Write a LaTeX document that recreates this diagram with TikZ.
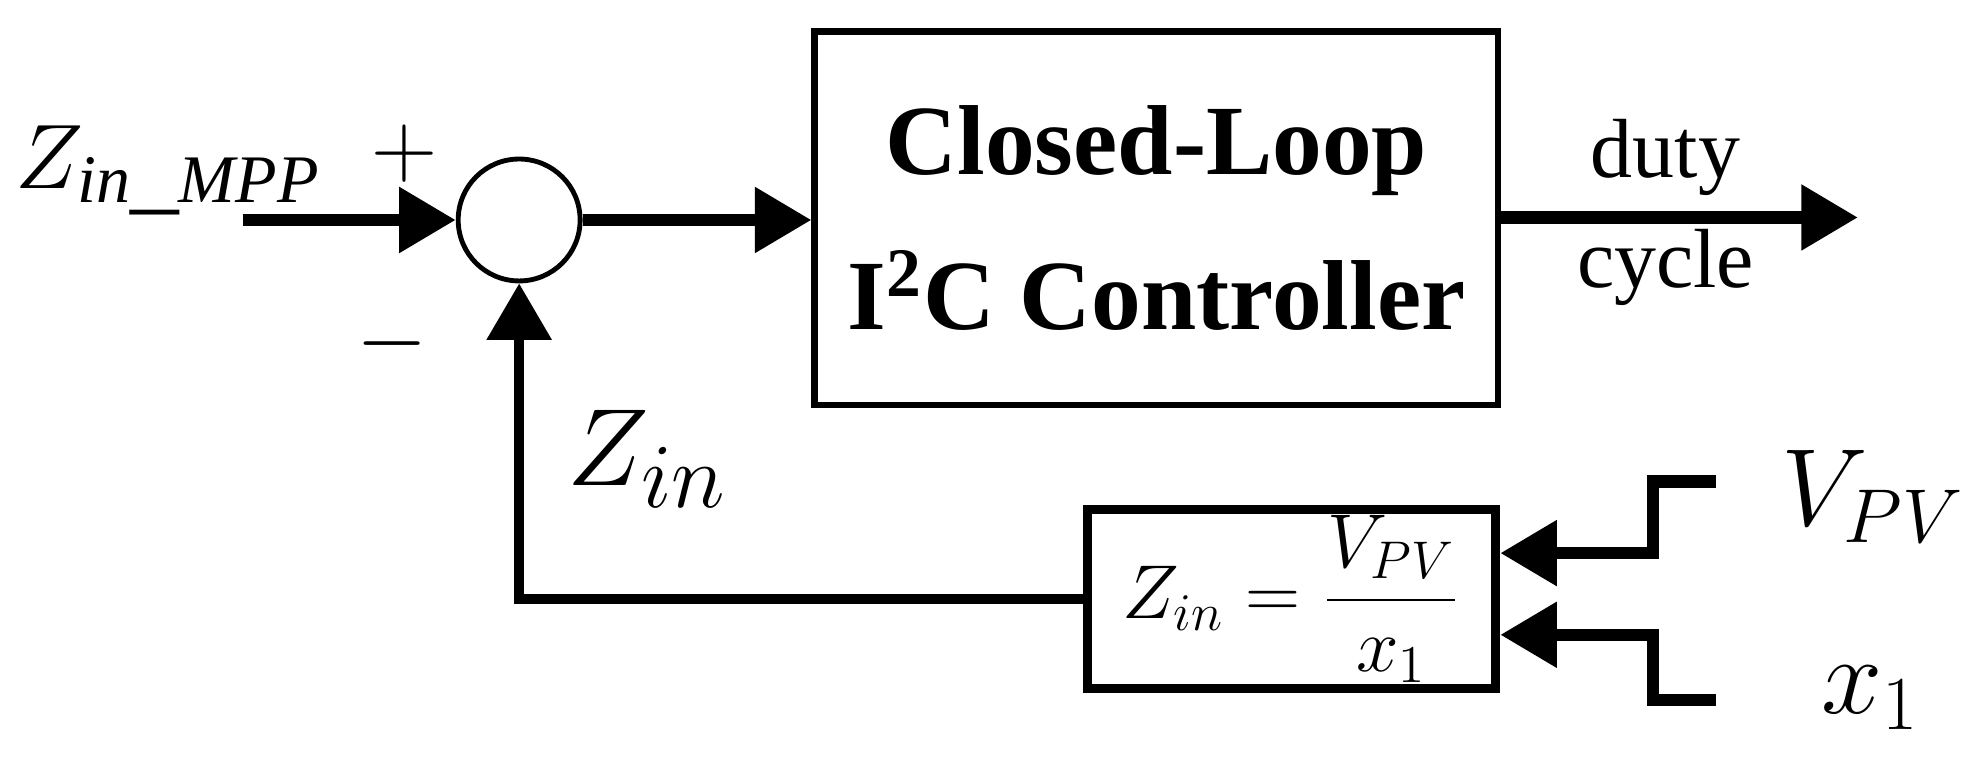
\documentclass[tikz,border=0pt]{standalone}
\usepackage{fontspec}
\setmainfont{Liberation Serif}
\usetikzlibrary{arrows.meta, positioning}
\tikzset{
    sig/.style={line width=2.8pt, -{Triangle[length=0.45cm, width=0.5cm]}},
    blk/.style={draw, line width=1.4pt, inner sep=0pt},
    lbl/.style={font=\fontsize{#1}{#1}\selectfont, inner sep=0pt}
}

\begin{document}
\begin{tikzpicture}
\useasboundingbox (0, 0) rectangle (15.68, -6.09);
\node[blk, minimum width=5.44cm, minimum height=2.97cm, align=center,
      font=\bfseries\fontsize{22.5}{35}\selectfont] (ctrl) at (9.2, -1.735)
      {Closed-Loop\\I\textsuperscript{2}C Controller};
\node[circle, draw, line width=1.1pt, minimum size=0.97cm, inner sep=0pt] (sum) at (4.13, -1.75) {};
\node[blk, line width=2pt, minimum width=3.25cm, minimum height=1.43cm,
      font=\fontsize{17}{17}\selectfont] (zcalc) at (10.275, -4.765)
      {$\displaystyle Z_{in}=\frac{V_{PV}}{x_1}$};
\coordinate (in) at (1.93, -1.75);
\coordinate (out) at (14.78, -1.73);
\coordinate (vpv) at (13.65, -3.83);
\coordinate (xone) at (13.65, -5.57);
\node[lbl=22, anchor=base west] (zmpp) at (0.12, -1.5) {$Z_{\mathit{in\_MPP}}$};
\node[lbl=20] (plus) at (3.22, -1.22) {$+$};
\node[lbl=20] (minus) at (3.12, -2.73) {$-$};
\node[lbl=28] (zin) at (5.15, -3.65) {$Z_{in}$};
\node[lbl=19] (duty) at (13.25, -1.25) {duty};
\node[lbl=19] (cycle) at (13.25, -2.13) {cycle};
\node[lbl=23] (vlbl) at (14.9, -3.95) {$V_{PV}$};
\node[lbl=23] (xlbl) at (14.88, -5.55) {$x_1$};
\draw[sig] (in) -- (sum.west);
\draw[sig] (sum.east) -- (ctrl.west |- sum.east);
\draw[sig] (ctrl.east |- out) -- (out);
\draw[sig, line width=2.3pt] (zcalc.west) -| (sum.south);
\draw[sig] (vpv) -- ++(-0.5, 0) |- ([yshift=0.365cm]zcalc.east);
\draw[sig] (xone) -- ++(-0.5, 0) |- ([yshift=-0.285cm]zcalc.east);
\end{tikzpicture}
\end{document}
